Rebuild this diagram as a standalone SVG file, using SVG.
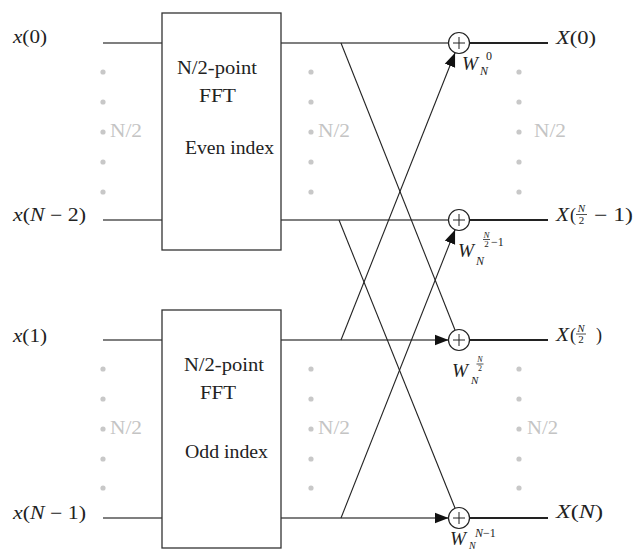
<svg xmlns="http://www.w3.org/2000/svg" width="634" height="551" viewBox="0 0 634 551">
<defs>
<style>
.t{font-family:"Liberation Serif","Times New Roman",serif;fill:#222;}
.i{font-style:italic;}
.g{font-family:"Liberation Serif","Times New Roman",serif;fill:#c4c4c4;font-size:18px;}
.box{fill:#fff;stroke:#333;stroke-width:1.3;}
.in{stroke:#555;stroke-width:1.4;fill:none;}
.out{stroke:#222;stroke-width:1.8;fill:none;}
.d{stroke:#222;stroke-width:1.1;fill:none;}
.sum{fill:#fff;stroke:#222;stroke-width:1.2;}
.plus{stroke:#222;stroke-width:1;}
.dot{fill:#c8c8c8;}
.bar{stroke:#222;stroke-width:0.8;}
</style>
<marker id="ah" markerUnits="userSpaceOnUse" markerWidth="14" markerHeight="12" refX="14" refY="6" orient="auto">
<path d="M0,0.5 L14,6 L0,11.5 Z" fill="#111"/>
</marker>
</defs>
<rect width="634" height="551" fill="#fff"/>

<g id="connectors">
<line class="in" x1="103" y1="43" x2="162" y2="43"/>
<line class="in" x1="103" y1="220" x2="162" y2="220"/>
<line class="in" x1="103" y1="340" x2="162" y2="340"/>
<line class="in" x1="103" y1="518" x2="162" y2="518"/>
<line class="in" x1="281" y1="43" x2="448.5" y2="43"/>
<line class="in" x1="281" y1="220" x2="448.5" y2="220"/>
<line class="in" x1="281" y1="340" x2="448.5" y2="340" marker-end="url(#ah)"/>
<line class="in" x1="281" y1="518" x2="448.5" y2="518" marker-end="url(#ah)"/>
<line class="d" x1="341" y1="43" x2="455.1" y2="330.2"/>
<line class="d" x1="339" y1="220" x2="455.1" y2="508.3"/>
<line class="d" x1="341" y1="340" x2="455.1" y2="52.8" marker-end="url(#ah)"/>
<line class="d" x1="341" y1="518" x2="455.1" y2="229.8" marker-end="url(#ah)"/>
<line class="out" x1="470" y1="43" x2="548" y2="43"/>
<line class="out" x1="470" y1="220" x2="548" y2="220"/>
<line class="out" x1="470" y1="340" x2="548" y2="340"/>
<line class="out" x1="470" y1="518" x2="548" y2="518"/>
</g>

<g id="dots">
<circle class="dot" cx="103" cy="72" r="2.6"/><circle class="dot" cx="103" cy="102" r="2.6"/><circle class="dot" cx="103" cy="132" r="2.6"/><circle class="dot" cx="103" cy="162" r="2.6"/><circle class="dot" cx="103" cy="192" r="2.6"/>
<circle class="dot" cx="311" cy="72" r="2.6"/><circle class="dot" cx="311" cy="102" r="2.6"/><circle class="dot" cx="311" cy="132" r="2.6"/><circle class="dot" cx="311" cy="162" r="2.6"/><circle class="dot" cx="311" cy="192" r="2.6"/>
<circle class="dot" cx="519" cy="72" r="2.6"/><circle class="dot" cx="519" cy="102" r="2.6"/><circle class="dot" cx="519" cy="132" r="2.6"/><circle class="dot" cx="519" cy="162" r="2.6"/><circle class="dot" cx="519" cy="192" r="2.6"/>
<circle class="dot" cx="103" cy="369" r="2.6"/><circle class="dot" cx="103" cy="399" r="2.6"/><circle class="dot" cx="103" cy="429" r="2.6"/><circle class="dot" cx="103" cy="459" r="2.6"/><circle class="dot" cx="103" cy="488" r="2.6"/>
<circle class="dot" cx="311" cy="369" r="2.6"/><circle class="dot" cx="311" cy="399" r="2.6"/><circle class="dot" cx="311" cy="429" r="2.6"/><circle class="dot" cx="311" cy="459" r="2.6"/><circle class="dot" cx="311" cy="488" r="2.6"/>
<circle class="dot" cx="519" cy="369" r="2.6"/><circle class="dot" cx="519" cy="399" r="2.6"/><circle class="dot" cx="519" cy="429" r="2.6"/><circle class="dot" cx="519" cy="459" r="2.6"/><circle class="dot" cx="519" cy="488" r="2.6"/>
<text class="g" x="110" y="137" textLength="32" lengthAdjust="spacingAndGlyphs">N/2</text>
<text class="g" x="318" y="137" textLength="32" lengthAdjust="spacingAndGlyphs">N/2</text>
<text class="g" x="534" y="137" textLength="32" lengthAdjust="spacingAndGlyphs">N/2</text>
<text class="g" x="110" y="434" textLength="32" lengthAdjust="spacingAndGlyphs">N/2</text>
<text class="g" x="318" y="434" textLength="32" lengthAdjust="spacingAndGlyphs">N/2</text>
<text class="g" x="527" y="434" textLength="31" lengthAdjust="spacingAndGlyphs">N/2</text>
</g>

<g id="fft-even">
<rect class="box" x="162" y="13" width="119" height="237"/>
<text class="t" x="177" y="74" font-size="18" textLength="80" lengthAdjust="spacingAndGlyphs">N/2-point</text>
<text class="t" x="199" y="102" font-size="18" textLength="37" lengthAdjust="spacingAndGlyphs">FFT</text>
<text class="t" x="185" y="154" font-size="18" textLength="89" lengthAdjust="spacingAndGlyphs">Even index</text>
</g>
<g id="fft-odd">
<rect class="box" x="162" y="310" width="119" height="238"/>
<text class="t" x="184" y="371" font-size="18" textLength="80" lengthAdjust="spacingAndGlyphs">N/2-point</text>
<text class="t" x="200" y="399" font-size="18" textLength="36" lengthAdjust="spacingAndGlyphs">FFT</text>
<text class="t" x="185" y="458" font-size="18" textLength="83" lengthAdjust="spacingAndGlyphs">Odd index</text>
</g>

<g id="inputs" class="t" font-size="18">
<text x="13" y="43" textLength="34" lengthAdjust="spacingAndGlyphs"><tspan class="i">x</tspan>(0)</text>
<text x="13" y="221" textLength="73" lengthAdjust="spacingAndGlyphs"><tspan class="i">x</tspan>(<tspan class="i">N</tspan> − 2)</text>
<text x="13" y="342" textLength="34" lengthAdjust="spacingAndGlyphs"><tspan class="i">x</tspan>(1)</text>
<text x="13" y="519" textLength="73" lengthAdjust="spacingAndGlyphs"><tspan class="i">x</tspan>(<tspan class="i">N</tspan> − 1)</text>
</g>

<g id="sum0">
<circle class="sum" cx="459" cy="43" r="10.5"/>
<path class="plus" d="M453,43 H465 M459,37 V49"/>
<text class="t i" x="462" y="70" font-size="18" textLength="16" lengthAdjust="spacingAndGlyphs">W</text>
<text class="t" x="486" y="60" font-size="12">0</text>
<text class="t i" x="480" y="75" font-size="12">N</text>
</g>
<g id="sum1">
<circle class="sum" cx="459" cy="220" r="10.5"/>
<path class="plus" d="M453,220 H465 M459,214 V226"/>
<text class="t i" x="458" y="257" font-size="18" textLength="16" lengthAdjust="spacingAndGlyphs">W</text>
<text class="t i" x="486.5" y="238" font-size="9" text-anchor="middle">N</text>
<line class="bar" x1="483" y1="239.5" x2="490" y2="239.5"/>
<text class="t" x="486.5" y="247" font-size="9" text-anchor="middle">2</text>
<text class="t" x="491" y="246" font-size="12">−1</text>
<text class="t i" x="476" y="265" font-size="12">N</text>
</g>
<g id="sum2">
<circle class="sum" cx="459" cy="340" r="10.5"/>
<path class="plus" d="M453,340 H465 M459,334 V346"/>
<text class="t i" x="452" y="377" font-size="18" textLength="16" lengthAdjust="spacingAndGlyphs">W</text>
<text class="t i" x="480" y="362" font-size="8" text-anchor="middle">N</text>
<line class="bar" x1="476.5" y1="364" x2="483.5" y2="364"/>
<text class="t" x="480" y="371" font-size="8" text-anchor="middle">2</text>
<text class="t i" x="471" y="384" font-size="11">N</text>
</g>
<g id="sum3">
<circle class="sum" cx="459" cy="518" r="10.5"/>
<path class="plus" d="M453,518 H465 M459,512 V524"/>
<text class="t i" x="450" y="545" font-size="18" textLength="16" lengthAdjust="spacingAndGlyphs">W</text>
<text class="t" x="475" y="537" font-size="12"><tspan class="i">N</tspan>−1</text>
<text class="t i" x="469" y="549" font-size="10">N</text>
</g>

<g id="outputs" class="t" font-size="18">
<text x="556" y="44" textLength="40" lengthAdjust="spacingAndGlyphs"><tspan class="i">X</tspan>(0)</text>
<text class="i" x="556" y="221" textLength="13" lengthAdjust="spacingAndGlyphs">X</text>
<text x="570" y="221">(</text>
<text class="i" x="581.5" y="212" font-size="11" text-anchor="middle">N</text>
<line class="bar" x1="576" y1="214.5" x2="587" y2="214.5"/>
<text x="581.5" y="224" font-size="11" text-anchor="middle">2</text>
<text x="594" y="221" textLength="39" lengthAdjust="spacingAndGlyphs">− 1)</text>
<text class="i" x="556" y="341" textLength="13" lengthAdjust="spacingAndGlyphs">X</text>
<text x="570" y="341">(</text>
<text class="i" x="581" y="332" font-size="11" text-anchor="middle">N</text>
<line class="bar" x1="576" y1="334" x2="586" y2="334"/>
<text x="581" y="343" font-size="11" text-anchor="middle">2</text>
<text x="596" y="341">)</text>
<text x="556" y="518" textLength="47" lengthAdjust="spacingAndGlyphs"><tspan class="i">X</tspan>(<tspan class="i">N</tspan>)</text>
</g>
</svg>
